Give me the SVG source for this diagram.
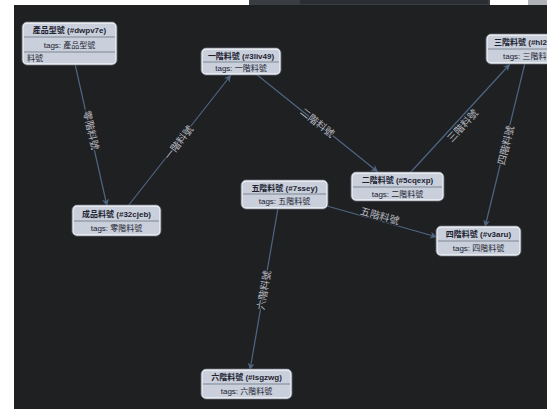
<svg xmlns="http://www.w3.org/2000/svg" width="547" height="409" viewBox="0 0 547 409">
<defs>
<marker id="arr" viewBox="0 0 10 10" refX="10" refY="5" markerWidth="7" markerHeight="7" orient="auto-start-reverse" markerUnits="userSpaceOnUse">
<path d="M0,0 L10,5 L0,10 L3,5 z" fill="#4f6584"/>
</marker>
<style>
.bg{fill:#1f2022}
.box{fill:#c9d0dc;stroke:#eef1f6;stroke-width:1.3}
.out{fill:none;stroke:#5a5f68;stroke-width:1}
.sep{stroke:#6c7482;stroke-width:0.8}
.t{font-family:"Liberation Sans","Noto Sans CJK TC",sans-serif;font-size:8px;fill:#1d2330;text-anchor:middle}
.tb{font-weight:bold}
.e{stroke:#4f6584;stroke-width:1.2;fill:none;marker-end:url(#arr)}
.lb{font-family:"Noto Sans CJK TC",sans-serif;font-size:10px;fill:#b9bcc2;stroke:#1f2022;stroke-width:2;paint-order:stroke;text-anchor:middle;dominant-baseline:central}
</style>
</defs>
<rect x="0" y="0" width="547" height="409" fill="#ffffff"/>
<rect class="bg" x="14" y="5" width="533" height="404"/>
<rect x="249" y="0" width="241" height="5" fill="#3a3d42"/>
<rect x="300" y="0" width="188" height="4" fill="#2a2d31"/>
<rect x="528" y="0" width="19" height="5" fill="#b0b3b8"/>

<g id="connectors">
<line class="e" x1="75" y1="64" x2="107" y2="206"/>
<line class="e" x1="128" y1="206" x2="231" y2="75"/>
<line class="e" x1="256" y1="74" x2="378" y2="172"/>
<line class="e" x1="410" y1="173" x2="510" y2="64"/>
<line class="e" x1="525" y1="63" x2="485" y2="227"/>
<line class="e" x1="327" y1="206" x2="437" y2="237"/>
<line class="e" x1="278" y1="208" x2="250" y2="370"/>
<text class="lb" transform="translate(92,130) rotate(77)">零階料號</text>
<text class="lb" transform="translate(178,142) rotate(-52)">一階料號</text>
<text class="lb" transform="translate(318,122) rotate(38.5)">二階料號</text>
<text class="lb" transform="translate(462,125) rotate(-47.7)">三階料號</text>
<text class="lb" transform="translate(505,145) rotate(-76)">四階料號</text>
<text class="lb" transform="translate(380,215) rotate(15.7)">五階料號</text>
<text class="lb" transform="translate(263,290) rotate(-80)">六階料號</text>
</g>

<g id="n-dwpv7e">
<rect class="out" x="22" y="22" width="95" height="43" rx="5"/>
<rect class="box" x="23" y="23" width="93" height="41" rx="4"/>
<line class="sep" x1="24" y1="37" x2="115" y2="37"/>
<line class="sep" x1="24" y1="52" x2="115" y2="52"/>
<text class="t tb" x="69.5" y="33">產品型號 (#dwpv7e)</text>
<text class="t" x="69.5" y="47.5">tags: 產品型號</text>
<text class="t" x="27" y="61" style="text-anchor:start">料號</text>
</g>

<g id="n-3liv49">
<rect class="out" x="201" y="48" width="80" height="27" rx="5"/>
<rect class="box" x="202" y="49" width="78" height="25" rx="4"/>
<line class="sep" x1="203" y1="62" x2="279" y2="62"/>
<text class="t tb" x="241" y="58.5">一階料號 (#3liv49)</text>
<text class="t" x="241" y="71">tags: 一階料號</text>
</g>

<g id="n-hl2">
<rect class="out" x="486" y="34" width="87" height="30" rx="5"/>
<rect class="box" x="487" y="35" width="85" height="28" rx="4"/>
<line class="sep" x1="488" y1="49" x2="571" y2="49"/>
<text class="t tb" x="494" y="45" style="text-anchor:start">三階料號 (#hl2</text>
<text class="t" x="503" y="59" style="text-anchor:start">tags: 三階料號</text>
</g>

<g id="n-5cqexp">
<rect class="out" x="351" y="172" width="93" height="29" rx="5"/>
<rect class="box" x="352" y="173" width="91" height="27" rx="4"/>
<line class="sep" x1="353" y1="187" x2="442" y2="187"/>
<text class="t tb" x="397.5" y="183">二階料號 (#5cqexp)</text>
<text class="t" x="397.5" y="196.5">tags: 二階料號</text>
</g>

<g id="n-32cjeb">
<rect class="out" x="72" y="205" width="89" height="31" rx="5"/>
<rect class="box" x="73" y="206" width="87" height="29" rx="4"/>
<line class="sep" x1="74" y1="221" x2="159" y2="221"/>
<text class="t tb" x="116.5" y="216.5">成品料號 (#32cjeb)</text>
<text class="t" x="116.5" y="231">tags: 零階料號</text>
</g>

<g id="n-7ssey">
<rect class="out" x="241" y="180" width="87" height="29" rx="5"/>
<rect class="box" x="242" y="181" width="85" height="27" rx="4"/>
<line class="sep" x1="243" y1="194" x2="326" y2="194"/>
<text class="t tb" x="284.5" y="190.5">五階料號 (#7ssey)</text>
<text class="t" x="284.5" y="204">tags: 五階料號</text>
</g>

<g id="n-v3aru">
<rect class="out" x="436" y="226" width="85" height="30" rx="5"/>
<rect class="box" x="437" y="227" width="83" height="28" rx="4"/>
<line class="sep" x1="438" y1="241" x2="519" y2="241"/>
<text class="t tb" x="478.5" y="237">四階料號 (#v3aru)</text>
<text class="t" x="478.5" y="251">tags: 四階料號</text>
</g>

<g id="n-lsgzwg">
<rect class="out" x="201" y="369" width="91" height="30" rx="5"/>
<rect class="box" x="202" y="370" width="89" height="28" rx="4"/>
<line class="sep" x1="203" y1="384" x2="290" y2="384"/>
<text class="t tb" x="246.5" y="380">六階料號 (#lsgzwg)</text>
<text class="t" x="246.5" y="394">tags: 六階料號</text>
</g>
</svg>
